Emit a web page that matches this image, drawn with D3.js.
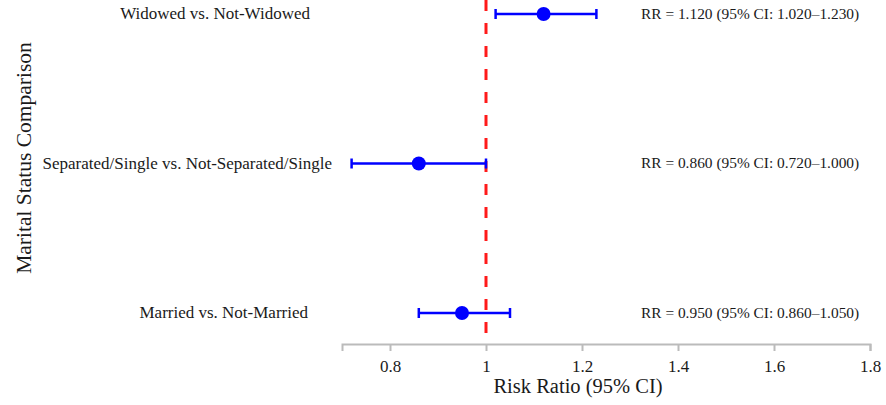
<!DOCTYPE html>
<html>
<head>
<meta charset="utf-8">
<script src="https://cdn.jsdelivr.net/npm/d3@7"></script>
<style>
  html, body { margin: 0; padding: 0; background: #fff; }
  svg { display: block; }
  text { font-family: "Liberation Serif", "Times New Roman", serif; fill: #1a1a1a; }
</style>
</head>
<body>
<svg id="chart" width="886" height="405"></svg>
<script>
// ---- data ----
const categories = ["Widowed vs. Not-Widowed", "Separated/Single vs. Not-Separated/Single", "Married vs. Not-Married"];
const rr = [1.12, 0.86, 0.95];
const ciLow = [1.02, 0.72, 0.86];
const ciHigh = [1.23, 1.00, 1.05];
const rrLabels = ["RR = 1.120 (95% CI: 1.020\u20131.230)", "RR = 0.860 (95% CI: 0.720\u20131.000)", "RR = 0.950 (95% CI: 0.860\u20131.050)"];
const xTicks = [0.8, 1.0, 1.2, 1.4, 1.6, 1.8];
const refValue = 1;

// ---- layout ----
const svg = d3.select("#chart");
const x = d3.scaleLinear().domain([0.7, 1.8]).range([342, 870]);
const y = d3.scalePoint().domain(categories).range([14, 313]);
const axisY = 344;
const labelRight = [310, 332, 308];
const rrTextX = 641;

// axis
const axis = d3.axisBottom(x).tickValues(xTicks).tickSize(7).tickPadding(9)
  .tickFormat(d => d3.format("~g")(d));
const gx = svg.append("g").attr("transform", `translate(0,${axisY})`).call(axis);
gx.select(".domain").attr("stroke", "#bbb").attr("stroke-width", 2);
gx.selectAll(".tick line").attr("stroke", "#bbb").attr("stroke-width", 2);
gx.selectAll(".tick text").attr("font-size", 17).attr("fill", "#1a1a1a")
  .style("font-family", "Liberation Serif, serif");

svg.append("text").attr("x", 578).attr("y", 393)
  .attr("text-anchor", "middle").attr("font-size", 20.5).text("Risk Ratio (95% CI)");

svg.append("text").attr("transform", `translate(31,158) rotate(-90)`)
  .attr("text-anchor", "middle").attr("font-size", 21.5).text("Marital Status Comparison");

// reference line
svg.append("line").attr("x1", x(refValue)).attr("x2", x(refValue))
  .attr("y1", 0).attr("y2", axisY)
  .attr("stroke", "#ff1a1a").attr("stroke-width", 3).attr("stroke-dasharray", "11,12");

// rows
const rows = svg.selectAll(".row").data(categories).join("g").attr("class", "row");
rows.append("line")
  .attr("x1", (d, i) => x(ciLow[i])).attr("x2", (d, i) => x(ciHigh[i]))
  .attr("y1", d => y(d)).attr("y2", d => y(d))
  .attr("stroke", "#0000ff").attr("stroke-width", 2.5);
rows.append("line")
  .attr("x1", (d, i) => x(ciLow[i])).attr("x2", (d, i) => x(ciLow[i]))
  .attr("y1", d => y(d) - 5).attr("y2", d => y(d) + 5)
  .attr("stroke", "#0000ff").attr("stroke-width", 2.5);
rows.append("line")
  .attr("x1", (d, i) => x(ciHigh[i])).attr("x2", (d, i) => x(ciHigh[i]))
  .attr("y1", d => y(d) - 5).attr("y2", d => y(d) + 5)
  .attr("stroke", "#0000ff").attr("stroke-width", 2.5);
rows.append("circle")
  .attr("cx", (d, i) => x(rr[i])).attr("cy", d => y(d)).attr("r", 7)
  .attr("fill", "#0000ff");
rows.append("text")
  .attr("x", (d, i) => labelRight[i]).attr("y", d => y(d)).attr("dy", "0.32em")
  .attr("text-anchor", "end").attr("font-size", 17).text(d => d);
rows.append("text")
  .attr("x", rrTextX).attr("y", d => y(d)).attr("dy", "0.32em")
  .attr("text-anchor", "start").attr("font-size", 15.4).text((d, i) => rrLabels[i]);
</script>
</body>
</html>
